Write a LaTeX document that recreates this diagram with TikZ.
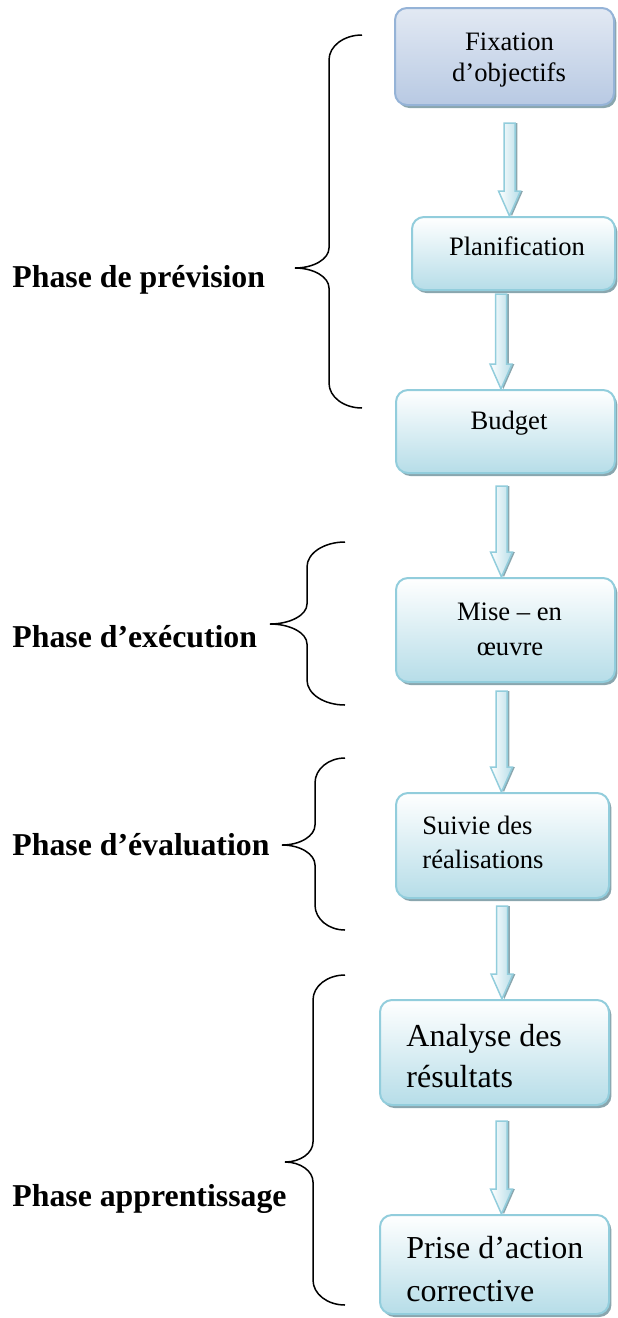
\documentclass[tikz,border=0pt]{standalone}
\usepackage{fontspec}
\setmainfont{Liberation Serif}
\usetikzlibrary{shadows,calc}
\definecolor{bord}{HTML}{92CDDC}
\definecolor{fillb}{HTML}{B6DDE8}
\definecolor{shad}{HTML}{8AA6AE}
\definecolor{bord1}{HTML}{95B3D7}
\definecolor{fillonea}{HTML}{E2E9F3}
\definecolor{filloneb}{HTML}{B8C9E3}
\tikzset{
 box/.style={draw=bord, line width=1pt, rounded corners=6pt, top color=white, bottom color=fillb, inner sep=0pt,
   drop shadow={shadow xshift=1.2pt, shadow yshift=-1.5pt, opacity=1, fill=shad}},
 boxone/.style={box, draw=bord1, top color=fillonea, bottom color=filloneb},
 small/.style={font=\fontsize{13.3pt}{16pt}\selectfont, inner sep=0pt},
 big/.style={font=\fontsize{16pt}{20pt}\selectfont, inner sep=0pt},
 phase/.style={font=\fontsize{15.9pt}{19pt}\selectfont\bfseries, inner sep=0pt, anchor=base west},
 bracestyle/.style={line width=0.75pt, black},
 arrbody/.style={draw=bord, line width=0.75pt, left color=white, right color=fillb, line join=miter},
 arrshadow/.style={fill=shad},
}
\newcommand\arrowpoly[4]{%
  let \p1=(#1.south), \p2=(#2.north) in
  ({#3*0.5pt-2.75pt},{\y1-#4*0.5pt}) -- ({#3*0.5pt+2.75pt},{\y1-#4*0.5pt}) --
  ({#3*0.5pt+2.75pt},{\y2+12.5pt}) -- ({#3*0.5pt+5.5pt},{\y2+12.5pt}) --
  ({#3*0.5pt},{\y2}) -- ({#3*0.5pt-5.5pt},{\y2+12.5pt}) --
  ({#3*0.5pt-2.75pt},{\y2+12.5pt}) -- cycle}
\newcommand\blockarrow[4]{%
  \path[arrshadow, xshift=1.2pt, yshift=-1pt] \arrowpoly{#1}{#2}{#3}{#4};
  \path[arrbody] \arrowpoly{#1}{#2}{#3}{#4};}
\newcommand\pbrace[6]{% E V X T Y B
  \draw[bracestyle] (#1,#4) .. controls ({#1-0.55*(#1-#2)},#4) and (#2,{#4+11}) .. (#2,{#4+25})
   -- (#2,{#5-20}) .. controls (#2,{#5-9}) and ({#3+0.55*(#2-#3)},#5) .. (#3,#5)
   .. controls ({#3+0.55*(#2-#3)},#5) and (#2,{#5+9}) .. (#2,{#5+20})
   -- (#2,{#6-25}) .. controls (#2,{#6-11}) and ({#1-0.55*(#1-#2)},#6) .. (#1,#6);}
\begin{document}
\begin{tikzpicture}[x=0.5pt,y=-0.5pt]
\useasboundingbox (0,0) rectangle (617,1318);
% boxes
\node[boxone, minimum width=109.5pt, minimum height=48.5pt] (b1) at (504.5,56.5) {};
\node[box, minimum width=101.5pt, minimum height=36.5pt] (b2) at (513.5,253.5) {};
\node[box, minimum width=109.5pt, minimum height=41.5pt] (b3) at (505.5,431.5) {};
\node[box, minimum width=109.5pt, minimum height=52pt] (b4) at (505.5,630) {};
\node[box, minimum width=106.5pt, minimum height=52.5pt] (b5) at (502.5,845.5) {};
\node[box, minimum width=114.5pt, minimum height=52.5pt] (b6) at (494.5,1052.5) {};
\node[box, minimum width=114.5pt, minimum height=49.5pt] (b7) at (494.5,1264.5) {};
% texts
\node[small, anchor=base] (t1a) at (509.5,50) {Fixation};
\node[small, anchor=base] (t1b) at (509,81.5) {d’objectifs};
\node[small, anchor=base] (t2) at (517,255) {Planification};
\node[small, anchor=base] (t3) at (509,429) {Budget};
\node[small, anchor=base] (t4a) at (509.5,620) {Mise – en};
\node[small, anchor=base] (t4b) at (510,655) {œuvre};
\node[small, anchor=base west] (t5a) at (422,834) {Suivie des};
\node[small, anchor=base west] (t5b) at (422,868) {réalisations};
\node[big, anchor=base west] (t6a) at (406,1046) {Analyse des};
\node[big, anchor=base west] (t6b) at (406,1087) {résultats};
\node[big, anchor=base west] (t7a) at (406,1258) {Prise d’action};
\node[big, anchor=base west] (t7b) at (406,1301) {corrective};
% arrows
\blockarrow{b1}{b2}{509.5}{17}
\blockarrow{b2}{b3}{501}{3}
\blockarrow{b3}{b4}{501.5}{12}
\blockarrow{b4}{b5}{501.5}{8}
\blockarrow{b5}{b6}{502}{7}
\blockarrow{b6}{b7}{501.5}{15}
% phases
\node[phase] (p1) at (12,287) {Phase de prévision};
\node[phase] (p2) at (12,647) {Phase d’exécution};
\node[phase] (p3) at (12,855) {Phase d’évaluation};
\node[phase] (p4) at (12,1206) {Phase apprentissage};
\pbrace{362}{329}{295}{35}{268}{408}
\pbrace{345}{307}{270}{542}{624}{705}
\pbrace{345}{315}{282}{758}{845}{930}
\pbrace{345}{313}{285}{975}{1162}{1305}
\end{tikzpicture}
\end{document}
